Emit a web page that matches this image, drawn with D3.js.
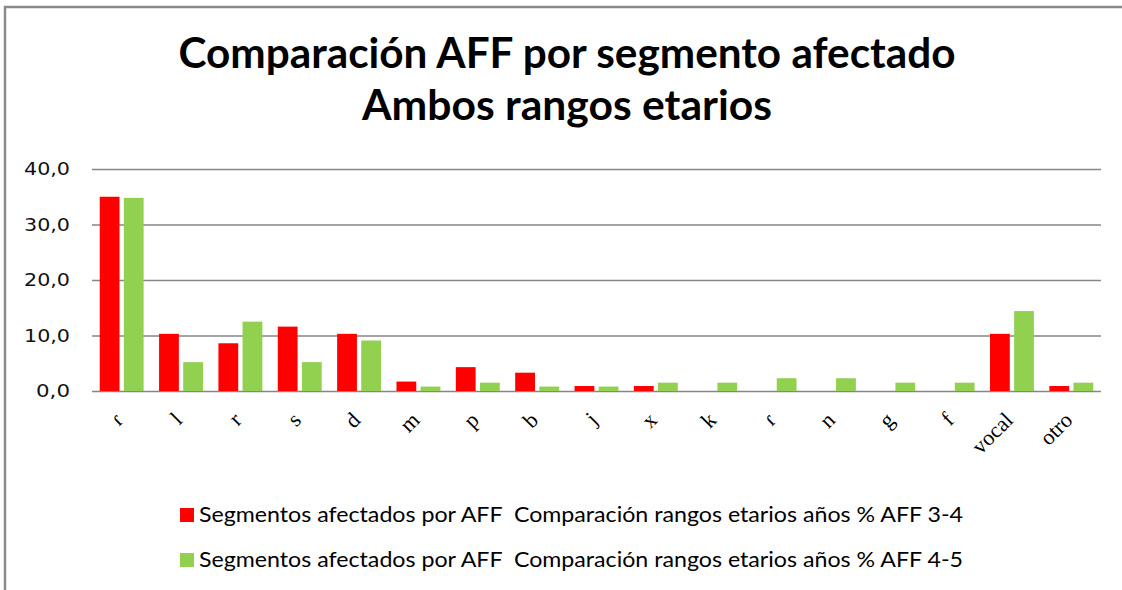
<!DOCTYPE html>
<html lang="es">
  <head>
    <meta charset="utf-8">
    <title>Comparación AFF por segmento afectado</title>
    <script src="https://cdnjs.cloudflare.com/ajax/libs/d3/7.8.5/d3.min.js"></script>
    <style type="text/css">
      body { margin: 0; background: #fff; }
      text { white-space: pre; }
    </style>
  </head>
  <body>
    <script type="text/javascript">
    // data
    var categories = ["ɾ", "l", "r", "s", "d", "m", "p", "b", "j", "x", "k", "ɾ", "n", "g", "f", "vocal", "otro"];
    var aff34 = [35.0, 10.3, 8.6, 11.6, 10.3, 1.7, 4.3, 3.3, 0.9, 0.9, 0, 0, 0, 0, 0, 10.3, 0.9];
    var aff45 = [34.8, 5.2, 12.5, 5.2, 9.1, 0.8, 1.5, 0.8, 0.8, 1.5, 1.5, 2.3, 2.3, 1.5, 1.5, 14.4, 1.5];
    var seriesNames = [
      "Segmentos afectados por AFF  Comparación rangos etarios años % AFF 3-4",
      "Segmentos afectados por AFF  Comparación rangos etarios años % AFF 4-5"
    ];
    var seriesColors = ["#ff0000", "#92d050"];
    var yTicks = [0, 10, 20, 30, 40];
    var titleLines = ["Comparación AFF por segmento afectado", "Ambos rangos etarios"];

    var w = 1122;
    var h = 590;
    // plot area (avoid the name "top", it is window.top)
    var pLeft = 92, pRight = 1101, pTop = 169, pBottom = 391;

    var svg = d3.select("body")
                .append("svg")
                .attr("width", w)
                .attr("height", h);

    // outer frame (top and left edges visible)
    svg.append("path")
       .attr("d", "M5,590 L5,7 L1122,7")
       .attr("fill", "none")
       .attr("stroke", "#8a8a8a")
       .attr("stroke-width", 2.5);

    // title
    var titleY = [68, 120];
    var titleLen = [777, 410];
    svg.selectAll("text.title")
       .data(titleLines)
       .enter()
       .append("text")
       .attr("class", "title")
       .attr("x", 567)
       .attr("y", function(d, i) { return titleY[i]; })
       .attr("text-anchor", "middle")
       .attr("textLength", function(d, i) { return titleLen[i]; })
       .attr("lengthAdjust", "spacingAndGlyphs")
       .attr("font-family", "Lato, 'Open Sans', sans-serif")
       .attr("font-weight", "bold")
       .attr("font-size", "42px")
       .attr("fill", "#000")
       .text(function(d) { return d; });

    var idx = d3.range(categories.length);

    var x0 = d3.scaleBand()
               .domain(idx)
               .range([pLeft, pRight])
               .paddingInner(0.26)
               .paddingOuter(0.13);

    var x1 = d3.scaleBand()
               .domain([0, 1])
               .range([0, x0.bandwidth()])
               .paddingInner(0.18);

    var y = d3.scaleLinear()
              .domain([0, 40])
              .range([pBottom, pTop]);

    // y axis with gridlines
    var yAxis = d3.axisLeft(y)
                  .tickValues(yTicks)
                  .tickSize(-(pRight - pLeft))
                  .tickPadding(22)
                  .tickFormat(function(d) { return d3.format(".1f")(d).replace(".", ","); });

    var gy = svg.append("g")
                .attr("transform", "translate(" + pLeft + ",0)")
                .call(yAxis);
    gy.select(".domain").remove();
    gy.selectAll(".tick line")
      .attr("stroke", "#868686")
      .attr("stroke-width", 1.3);
    gy.selectAll(".tick text")
      .attr("font-family", "'DejaVu Sans', Verdana, sans-serif")
      .attr("font-size", "17.5px")
      .attr("textLength", function(d) { return d < 10 ? 34 : 46; })
      .attr("lengthAdjust", "spacingAndGlyphs")
      .attr("fill", "#111");

    // bars
    var series = [aff34, aff45];
    var groups = svg.selectAll("g.cat")
       .data(idx)
       .enter()
       .append("g")
       .attr("class", "cat")
       .attr("transform", function(i) { return "translate(" + x0(i) + ",0)"; });

    groups.selectAll("rect")
       .data(function(i) { return series.map(function(s, k) { return {k: k, v: s[i]}; }); })
       .enter()
       .append("rect")
       .attr("x", function(d) { return x1(d.k); })
       .attr("y", function(d) { return y(d.v); })
       .attr("width", x1.bandwidth())
       .attr("height", function(d) { return y(0) - y(d.v); })
       .attr("fill", function(d) { return seriesColors[d.k]; });

    // x labels, rotated
    svg.selectAll("text.xlab")
       .data(idx)
       .enter()
       .append("text")
       .attr("class", "xlab")
       .attr("transform", function(i) {
            var cx = x0(i) + x0.bandwidth() / 2;
            return "translate(" + (cx - 3) + ",416) rotate(-45)";
        })
       .attr("text-anchor", "end")
       .attr("dy", "0.35em")
       .attr("font-family", "'Liberation Serif', 'Times New Roman', serif")
       .attr("font-size", "22px")
       .attr("fill", "#000")
       .text(function(i) { return categories[i]; });

    // legend
    var legY = [515, 560];
    var leg = svg.selectAll("g.leg")
       .data(seriesNames)
       .enter()
       .append("g")
       .attr("class", "leg")
       .attr("transform", function(d, i) { return "translate(180," + legY[i] + ")"; });

    leg.append("rect")
       .attr("x", 0)
       .attr("y", -7)
       .attr("width", 14)
       .attr("height", 14)
       .attr("fill", function(d, i) { return seriesColors[i]; });

    leg.append("text")
       .attr("x", 19)
       .attr("y", 0)
       .attr("dy", "0.35em")
       .attr("textLength", 764)
       .attr("lengthAdjust", "spacingAndGlyphs")
       .attr("font-family", "Lato, 'Open Sans', sans-serif")
       .attr("font-size", "21px")
       .attr("fill", "#000")
       .text(function(d) { return d; });
    </script>
  </body>
</html>
